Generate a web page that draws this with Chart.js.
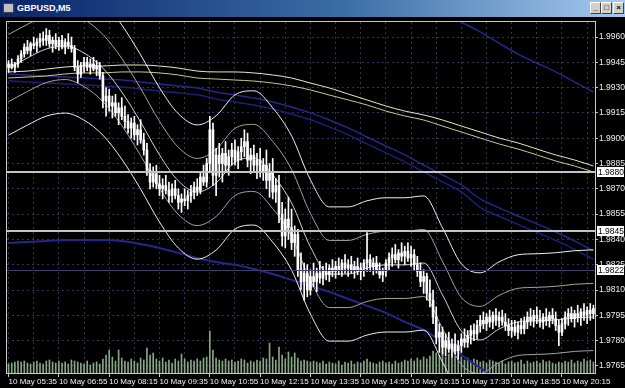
<!DOCTYPE html>
<html>
<head>
<meta charset="utf-8">
<script src="https://cdn.jsdelivr.net/npm/chart.js@4.4.1/dist/chart.umd.min.js"></script>
<style>
html,body{margin:0;padding:0;background:#000;width:625px;height:388px;overflow:hidden;}
#title{position:absolute;left:0;top:0;width:625px;height:17px;background:linear-gradient(to right,#0a246a 0%,#3a6ea5 55%,#a6caf0 100%);}
#ticon{position:absolute;left:3px;top:3px;width:11px;height:10px;background:#c0c0c0;border:1px solid #404040;box-sizing:border-box;}
#ttext{position:absolute;left:17px;top:2px;font:bold 9px 'Liberation Sans',Arial,sans-serif;color:#fff;line-height:13px;}
.tbtn{position:absolute;top:2px;width:11px;height:12px;background:#d4d0c8;border:1px solid;border-color:#fff #404040 #404040 #fff;box-sizing:border-box;font:bold 8px 'Liberation Sans',sans-serif;color:#000;text-align:center;line-height:9px;}
#cv{position:absolute;left:0;top:18px;}
</style>
</head>
<body>
<div id="title"><div id="ticon"></div><div id="ttext">GBPUSD,M5</div>
<div class="tbtn" style="left:590px">_</div><div class="tbtn" style="left:601px">□</div><div class="tbtn" style="left:613px">×</div></div>
<canvas id="cv" width="625" height="370"></canvas>
<script>
// ---------- data ----------
const barDay = '10 May';
const firstBarMinutes = 5 * 60 + 35;   // 05:35
const barStepMinutes = 5;              // M5
const xTickLabels = ['10 May 05:35','10 May 06:55','10 May 08:15','10 May 09:35','10 May 10:55','10 May 12:15','10 May 13:35','10 May 14:55','10 May 16:15','10 May 17:35','10 May 18:55','10 May 20:15'];
const yTickValues = [1.9765,1.9780,1.9795,1.9810,1.9825,1.9840,1.9855,1.9870,1.9885,1.9900,1.9915,1.9930,1.9945,1.9960];
const levelLines = [1.9880, 1.9845];
const bidLevel = 1.9822;

const opens = [1.9942,1.9944,1.9942,1.9944,1.9947,1.9950,1.9954,1.9952,1.9956,1.9955,1.9957,1.9959,1.9958,1.9961,1.9956,1.9958,1.9955,1.9958,1.9954,1.9957,1.9955,1.9953,1.9942,1.9938,1.9943,1.9945,1.9942,1.9944,1.9941,1.9943,1.9937,1.9922,1.9925,1.9919,1.9921,1.9915,1.9918,1.9913,1.9910,1.9906,1.9909,1.9902,1.9905,1.9899,1.9893,1.9881,1.9874,1.9879,1.9873,1.9870,1.9872,1.9869,1.9866,1.9870,1.9866,1.9862,1.9864,1.9863,1.9866,1.9868,1.9871,1.9869,1.9877,1.9874,1.9885,1.9905,1.9878,1.9890,1.9885,1.9891,1.9884,1.9889,1.9893,1.9887,1.9892,1.9895,1.9898,1.9887,1.9890,1.9884,1.9887,1.9880,1.9884,1.9875,1.9880,1.9868,1.9872,1.9855,1.9842,1.9852,1.9847,1.9838,1.9843,1.9822,1.9815,1.9820,1.9810,1.9818,1.9815,1.9820,1.9817,1.9821,1.9819,1.9823,1.9821,1.9824,1.9822,1.9826,1.9823,1.9825,1.9822,1.9824,1.9821,1.9823,1.9826,1.9828,1.9824,1.9826,1.9822,1.9819,1.9821,1.9826,1.9829,1.9831,1.9828,1.9832,1.9830,1.9833,1.9829,1.9831,1.9825,1.9821,1.9815,1.9818,1.9808,1.9804,1.9794,1.9782,1.9785,1.9776,1.9780,1.9775,1.9778,1.9774,1.9777,1.9781,1.9779,1.9783,1.9786,1.9784,1.9789,1.9792,1.9790,1.9794,1.9791,1.9795,1.9792,1.9794,1.9791,1.9789,1.9786,1.9788,1.9785,1.9789,1.9787,1.9791,1.9794,1.9792,1.9795,1.9793,1.9791,1.9794,1.9792,1.9795,1.9793,1.9789,1.9785,1.9790,1.9794,1.9796,1.9793,1.9796,1.9794,1.9797,1.9795,1.9798,1.9796];
const highs = [1.9946,1.9947,1.9945,1.9949,1.9952,1.9956,1.9958,1.9957,1.9960,1.9959,1.9962,1.9963,1.9965,1.9964,1.9960,1.9962,1.9960,1.9961,1.9959,1.9962,1.9960,1.9955,1.9946,1.9945,1.9948,1.9948,1.9947,1.9948,1.9946,1.9945,1.9939,1.9930,1.9929,1.9925,1.9926,1.9921,1.9924,1.9919,1.9914,1.9912,1.9913,1.9908,1.9911,1.9903,1.9897,1.9885,1.9883,1.9884,1.9878,1.9876,1.9878,1.9874,1.9873,1.9875,1.9870,1.9867,1.9870,1.9869,1.9872,1.9874,1.9876,1.9880,1.9884,1.9888,1.9913,1.9909,1.9894,1.9897,1.9894,1.9898,1.9893,1.9897,1.9899,1.9895,1.9900,1.9905,1.9903,1.9894,1.9896,1.9891,1.9894,1.9888,1.9893,1.9885,1.9888,1.9876,1.9878,1.9862,1.9858,1.9865,1.9858,1.9848,1.9846,1.9832,1.9826,1.9825,1.9822,1.9826,1.9823,1.9827,1.9824,1.9826,1.9825,1.9828,1.9827,1.9829,1.9828,1.9831,1.9828,1.9830,1.9827,1.9829,1.9826,1.9828,1.9844,1.9831,1.9829,1.9830,1.9826,1.9823,1.9828,1.9832,1.9835,1.9837,1.9834,1.9838,1.9836,1.9838,1.9836,1.9834,1.9830,1.9826,1.9822,1.9820,1.9816,1.9810,1.9800,1.9790,1.9788,1.9784,1.9785,1.9781,1.9784,1.9780,1.9784,1.9787,1.9786,1.9789,1.9790,1.9792,1.9795,1.9797,1.9796,1.9798,1.9797,1.9799,1.9797,1.9798,1.9796,1.9793,1.9792,1.9792,1.9791,1.9793,1.9794,1.9797,1.9799,1.9798,1.9800,1.9798,1.9796,1.9799,1.9797,1.9799,1.9797,1.9792,1.9793,1.9797,1.9799,1.9800,1.9798,1.9801,1.9799,1.9802,1.9800,1.9802,1.9801];
const lows = [1.9939,1.9941,1.9939,1.9942,1.9945,1.9948,1.9950,1.9949,1.9953,1.9951,1.9954,1.9955,1.9955,1.9954,1.9951,1.9953,1.9952,1.9953,1.9950,1.9953,1.9951,1.9940,1.9933,1.9936,1.9939,1.9940,1.9938,1.9940,1.9937,1.9935,1.9918,1.9913,1.9916,1.9912,1.9913,1.9908,1.9911,1.9906,1.9903,1.9900,1.9899,1.9896,1.9897,1.9890,1.9878,1.9870,1.9871,1.9870,1.9866,1.9864,1.9867,1.9862,1.9862,1.9864,1.9858,1.9856,1.9860,1.9858,1.9862,1.9864,1.9866,1.9867,1.9872,1.9871,1.9880,1.9872,1.9866,1.9877,1.9874,1.9880,1.9878,1.9884,1.9884,1.9882,1.9887,1.9889,1.9883,1.9879,1.9880,1.9876,1.9877,1.9875,1.9870,1.9865,1.9864,1.9862,1.9850,1.9836,1.9835,1.9840,1.9834,1.9830,1.9818,1.9810,1.9804,1.9806,1.9807,1.9812,1.9809,1.9814,1.9813,1.9816,1.9815,1.9818,1.9817,1.9819,1.9818,1.9820,1.9818,1.9820,1.9817,1.9819,1.9816,1.9818,1.9821,1.9821,1.9819,1.9820,1.9817,1.9815,1.9818,1.9822,1.9824,1.9826,1.9823,1.9827,1.9825,1.9827,1.9824,1.9822,1.9818,1.9812,1.9808,1.9804,1.9800,1.9790,1.9778,1.9773,1.9772,1.9771,1.9773,1.9770,1.9772,1.9769,1.9773,1.9776,1.9776,1.9778,1.9780,1.9781,1.9785,1.9787,1.9786,1.9788,1.9787,1.9789,1.9788,1.9789,1.9786,1.9783,1.9782,1.9783,1.9781,1.9784,1.9784,1.9787,1.9789,1.9788,1.9790,1.9788,1.9787,1.9789,1.9788,1.9790,1.9786,1.9777,1.9783,1.9787,1.9789,1.9791,1.9788,1.9791,1.9789,1.9792,1.9790,1.9792,1.9793];
const closes = [1.9944,1.9942,1.9944,1.9947,1.9950,1.9954,1.9952,1.9956,1.9955,1.9957,1.9959,1.9958,1.9961,1.9956,1.9958,1.9955,1.9958,1.9954,1.9957,1.9955,1.9953,1.9942,1.9938,1.9943,1.9945,1.9942,1.9944,1.9941,1.9943,1.9937,1.9922,1.9925,1.9919,1.9921,1.9915,1.9918,1.9913,1.9910,1.9906,1.9909,1.9902,1.9905,1.9899,1.9893,1.9881,1.9874,1.9879,1.9873,1.9870,1.9872,1.9869,1.9866,1.9870,1.9866,1.9862,1.9864,1.9863,1.9866,1.9868,1.9871,1.9869,1.9877,1.9874,1.9885,1.9905,1.9878,1.9890,1.9885,1.9891,1.9884,1.9889,1.9893,1.9887,1.9892,1.9895,1.9898,1.9887,1.9890,1.9884,1.9887,1.9880,1.9884,1.9875,1.9880,1.9868,1.9872,1.9855,1.9842,1.9852,1.9847,1.9838,1.9843,1.9822,1.9815,1.9820,1.9810,1.9818,1.9815,1.9820,1.9817,1.9821,1.9819,1.9823,1.9821,1.9824,1.9822,1.9826,1.9823,1.9825,1.9822,1.9824,1.9821,1.9823,1.9826,1.9828,1.9824,1.9826,1.9822,1.9819,1.9821,1.9826,1.9829,1.9831,1.9828,1.9832,1.9830,1.9833,1.9829,1.9831,1.9825,1.9821,1.9815,1.9818,1.9808,1.9804,1.9794,1.9782,1.9785,1.9776,1.9780,1.9775,1.9778,1.9774,1.9777,1.9781,1.9779,1.9783,1.9786,1.9784,1.9789,1.9792,1.9790,1.9794,1.9791,1.9795,1.9792,1.9794,1.9791,1.9789,1.9786,1.9788,1.9785,1.9789,1.9787,1.9791,1.9794,1.9792,1.9795,1.9793,1.9791,1.9794,1.9792,1.9795,1.9793,1.9789,1.9785,1.9790,1.9794,1.9796,1.9793,1.9796,1.9794,1.9797,1.9795,1.9798,1.9796,1.9799];
const volumes = [36,40,44,48,44,48,40,36,44,48,40,36,48,52,44,40,48,40,44,36,52,48,44,40,36,48,32,40,44,36,56,72,92,64,48,92,60,48,44,56,48,40,60,52,100,72,80,56,48,60,44,52,40,56,48,76,56,44,52,48,56,48,60,64,168,92,60,52,48,56,48,52,44,48,56,52,40,48,44,52,48,60,56,120,64,52,104,72,56,84,64,80,60,48,52,48,44,48,44,40,48,36,44,40,36,48,32,44,40,48,36,44,40,48,56,44,40,36,44,48,40,44,36,48,40,44,52,48,56,48,60,52,64,56,68,88,80,72,96,64,76,60,68,56,64,52,60,48,56,52,44,48,40,52,48,44,40,48,36,44,48,40,44,52,36,48,40,44,48,40,52,44,48,40,36,44,40,48,44,52,40,48,44,56,48,52,44];

// indicator lines, read at every 6th bar
const sampleIdx = [0,6,12,18,24,30,36,42,48,54,60,66,72,78,84,90,96,102,108,114,120,126,132,138,144,150,156,162,168,174,180,186];
const envMid    = [1.99416,1.99476,1.99529,1.99547,1.99505,1.99416,1.99274,1.99096,1.98901,1.98747,1.98681,1.98735,1.98859,1.98883,1.98782,1.98616,1.98355,1.98195,1.98195,1.98231,1.98249,1.98249,1.98260,1.98071,1.97857,1.97804,1.97869,1.97911,1.97917,1.97923,1.97935,1.97940];
const envUpper2 = [1.99814,1.99874,1.99927,1.99945,1.99903,1.99814,1.99672,1.99494,1.99299,1.99145,1.99079,1.99133,1.99257,1.99281,1.99180,1.99014,1.98753,1.98593,1.98593,1.98629,1.98647,1.98647,1.98658,1.98469,1.98255,1.98202,1.98267,1.98309,1.98315,1.98321,1.98333,1.98338];
const envUpper1 = [1.99615,1.99675,1.99728,1.99746,1.99704,1.99615,1.99473,1.99295,1.99100,1.98946,1.98880,1.98934,1.99058,1.99082,1.98981,1.98815,1.98554,1.98394,1.98394,1.98430,1.98448,1.98448,1.98459,1.98270,1.98056,1.98003,1.98068,1.98110,1.98116,1.98122,1.98134,1.98139];
const envLower1 = [1.99217,1.99277,1.99330,1.99348,1.99306,1.99217,1.99075,1.98897,1.98702,1.98548,1.98482,1.98536,1.98660,1.98684,1.98583,1.98417,1.98156,1.97996,1.97996,1.98032,1.98050,1.98050,1.98061,1.97872,1.97658,1.97605,1.97670,1.97712,1.97718,1.97724,1.97736,1.97741];
const envLower2 = [1.99018,1.99078,1.99131,1.99149,1.99107,1.99018,1.98876,1.98698,1.98503,1.98349,1.98283,1.98337,1.98461,1.98485,1.98384,1.98218,1.97957,1.97797,1.97797,1.97833,1.97851,1.97851,1.97862,1.97673,1.97459,1.97406,1.97471,1.97513,1.97519,1.97525,1.97537,1.97542];
const maSlowA   = [1.99393,1.99398,1.99410,1.99422,1.99428,1.99428,1.99434,1.99434,1.99428,1.99416,1.99398,1.99393,1.99393,1.99387,1.99375,1.99357,1.99327,1.99298,1.99262,1.99227,1.99191,1.99161,1.99138,1.99108,1.99072,1.99037,1.99001,1.98972,1.98936,1.98901,1.98871,1.98835];
const maSlowB   = [1.99357,1.99363,1.99369,1.99381,1.99387,1.99387,1.99393,1.99393,1.99387,1.99375,1.99357,1.99351,1.99345,1.99339,1.99327,1.99310,1.99286,1.99256,1.99227,1.99197,1.99161,1.99132,1.99108,1.99072,1.99037,1.99001,1.98966,1.98936,1.98901,1.98865,1.98835,1.98800];
const blueA     = [1.99381,1.99375,1.99369,1.99363,1.99357,1.99351,1.99345,1.99333,1.99321,1.99310,1.99298,1.99274,1.99256,1.99238,1.99215,1.99185,1.99150,1.99108,1.99061,1.99007,1.98954,1.98901,1.98841,1.98782,1.98723,1.98640,1.98587,1.98539,1.98492,1.98444,1.98391,1.98332];
const blueB     = [1.99340,1.99334,1.99328,1.99322,1.99316,1.99310,1.99304,1.99292,1.99280,1.99269,1.99257,1.99233,1.99215,1.99197,1.99174,1.99144,1.99109,1.99067,1.99020,1.98966,1.98913,1.98860,1.98800,1.98741,1.98682,1.98590,1.98537,1.98489,1.98442,1.98394,1.98341,1.98282];
const blueCIdx  = [138,144,150,156,162,168,174,180,186];
const blueC     = [1.99748,1.99689,1.99630,1.99564,1.99499,1.99446,1.99393,1.99333,1.99274];
const blueDIdx  = [0,6,12,18,24,30,36,42,48,54,60,66,72,78,84,90,96,102,108,114,120,126,132,138,144,150,156];
const blueD     = [1.98379,1.98385,1.98391,1.98397,1.98397,1.98397,1.98391,1.98373,1.98349,1.98320,1.98290,1.98266,1.98249,1.98225,1.98195,1.98160,1.98124,1.98089,1.98047,1.98006,1.97964,1.97911,1.97863,1.97792,1.97715,1.97638,1.97567];

// ---------- build ----------
const labels = opens.map((_, i) => {
  const t = firstBarMinutes + i * barStepMinutes;
  return barDay + ' ' + String(Math.floor(t / 60)).padStart(2, '0') + ':' + String(t % 60).padStart(2, '0');
});
const pts = (idx, vals) => idx.map((b, k) => ({ x: labels[b], y: vals[k] }));
const fontFam = "'Liberation Sans Narrow','Liberation Sans',Arial,sans-serif";
const gridCol = '#34345a';

function lineDs(data, color, order, width) {
  return { type: 'line', data, borderColor: color, borderWidth: width || 1, pointRadius: 0,
           cubicInterpolationMode: 'monotone', order, yAxisID: 'y' };
}

const bgPlugin = {
  id: 'bg',
  beforeDraw(chart) {
    const c = chart.ctx; c.save(); c.fillStyle = '#000'; c.fillRect(0, 0, chart.width, chart.height); c.restore();
  }
};
const overlayPlugin = {
  id: 'overlay',
  afterDatasetsDraw(chart) {
    const { ctx, chartArea: a, scales: { y } } = chart;
    ctx.save();
    ctx.beginPath(); ctx.rect(a.left, a.top, a.right - a.left, a.bottom - a.top); ctx.clip();
    const by = Math.round(y.getPixelForValue(bidLevel)) + 0.5;
    ctx.strokeStyle = '#3e3e6c'; ctx.lineWidth = 1;
    ctx.beginPath(); ctx.moveTo(a.left, by); ctx.lineTo(a.right, by); ctx.stroke();
    ctx.strokeStyle = '#c4c4c4'; ctx.lineWidth = 2;
    levelLines.forEach(v => {
      const py = Math.round(y.getPixelForValue(v));
      ctx.beginPath(); ctx.moveTo(a.left, py); ctx.lineTo(a.right, py); ctx.stroke();
    });
    ctx.restore();
    ctx.save(); ctx.strokeStyle = '#c8c8c8'; ctx.lineWidth = 1;
    ctx.strokeRect(Math.round(a.left) - 0.5, Math.round(a.top) - 0.5, Math.round(a.right - a.left) + 1, Math.round(a.bottom - a.top) + 1);
    ctx.restore();
  },
  afterDraw(chart) {
    const { ctx, chartArea: a, scales: { y } } = chart;
    ctx.save();
    ctx.font = '8.5px ' + fontFam;
    ctx.textBaseline = 'middle';
    [...levelLines, bidLevel].forEach(v => {
      const py = Math.round(y.getPixelForValue(v));
      ctx.fillStyle = '#fff'; ctx.fillRect(a.right + 2, py - 5, 27, 10);
      ctx.fillStyle = '#000'; ctx.fillText(v.toFixed(4), a.right + 3, py + 0.5);
    });
    ctx.restore();
  }
};

new Chart(document.getElementById('cv'), {
  type: 'bar',
  data: {
    labels,
    datasets: [
      { type: 'bar', data: opens.map((o, i) => [o, closes[i]]), backgroundColor: '#ffffff', barThickness: 2, grouped: false, order: 0, yAxisID: 'y', minBarLength: 1 },
      { type: 'bar', data: lows.map((l, i) => [l, highs[i]]), backgroundColor: '#ffffff', barThickness: 1, grouped: false, order: 1, yAxisID: 'y' },
      lineDs(pts(sampleIdx, envUpper2), '#efefef', 2),
      lineDs(pts(sampleIdx, envUpper1), '#a4a49c', 3),
      lineDs(pts(sampleIdx, envMid), '#d4d4d4', 4),
      lineDs(pts(sampleIdx, envLower1), '#a4a49c', 5),
      lineDs(pts(sampleIdx, envLower2), '#efefef', 6),
      lineDs(pts(sampleIdx, maSlowA), '#e8e8c0', 7),
      lineDs(pts(sampleIdx, maSlowB), '#c8c890', 8),
      lineDs(pts(sampleIdx, blueA), '#26268e', 9, 1.5),
      lineDs(pts(sampleIdx, blueB), '#1e1e80', 10, 1.5),
      lineDs(pts(blueCIdx, blueC), '#26268e', 11, 1.5),
      lineDs(pts(blueDIdx, blueD), '#26268e', 12, 2),
      { type: 'bar', data: volumes, yAxisID: 'yv', backgroundColor: '#86a886', barThickness: 1, grouped: false, order: 20 }
    ]
  },
  options: {
    responsive: false,
    animation: false,
    devicePixelRatio: 1,
    layout: { padding: { left: 7, top: 4, right: 0, bottom: 0 } },
    plugins: { legend: { display: false }, tooltip: { enabled: false } },
    scales: {
      x: {
        type: 'category', offset: true,
        grid: {
          offset: false, lineWidth: 1,
          color: c => (c.index % 8 === 0 ? gridCol : 'transparent'),
          drawTicks: true, tickLength: 4,
          tickColor: c => (c.index % 16 === 0 ? '#c8c8c8' : 'transparent')
        },
        border: { display: false, dash: [2, 3] },
        ticks: {
          autoSkip: false, maxRotation: 0, minRotation: 0, align: 'start', padding: 0,
          color: '#f0f0f0', font: { family: fontFam, size: 8 },
          callback: (v, i) => (i % 16 === 0 ? xTickLabels[i / 16] : '')
        },
        afterFit: s => { s.height = 15; s.paddingLeft = 0; s.paddingRight = 0; }
      },
      y: {
        position: 'right', min: 1.97608, max: 1.99689,
        afterBuildTicks: s => { s.ticks = yTickValues.map(v => ({ value: v })); },
        grid: { color: gridCol, lineWidth: 1, drawTicks: true, tickLength: 3, tickColor: '#c8c8c8' },
        border: { display: false, dash: [2, 3] },
        ticks: { color: '#f0f0f0', padding: 1, font: { family: fontFam, size: 8.5 }, callback: v => Number(v).toFixed(4) },
        afterFit: s => { s.width = 30; s.paddingTop = 0; s.paddingBottom = 0; }
      },
      yv: { display: false, min: 0, max: 1404 }
    }
  },
  plugins: [bgPlugin, overlayPlugin]
});
</script>
</body>
</html>
